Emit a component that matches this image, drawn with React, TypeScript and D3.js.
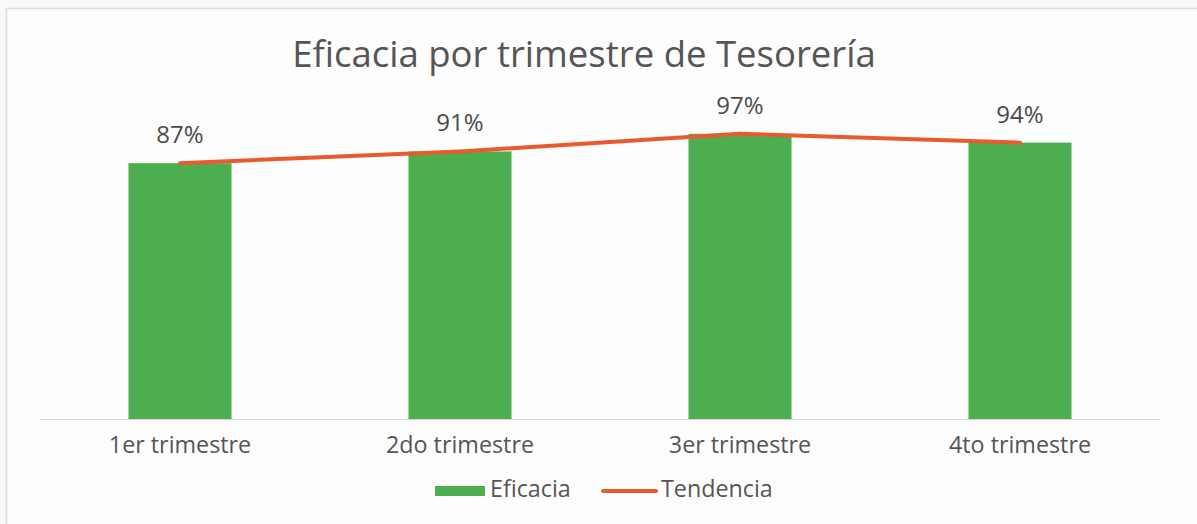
import React from "react";
import * as d3 from "d3";

const categories = ["1er trimestre", "2do trimestre", "3er trimestre", "4to trimestre"];
const eficacia = [0.87, 0.91, 0.97, 0.94];
const labels = ["87%", "91%", "97%", "94%"];
const legendItems = ["Eficacia", "Tendencia"];
const title = "Eficacia por trimestre de Tesorería";

const W = 1197;
const H = 524;
const FONT = "'Open Sans', 'Noto Sans', sans-serif";
const GREEN = "#4cae4f";
const ORANGE = "#ea5a2d";
const TEXT = "#4a4a4a";

export default function App() {
  const x = d3
    .scaleBand<string>()
    .domain(categories)
    .range([40, 1160])
    .paddingInner(0.632)
    .paddingOuter(0.316);
  const y = d3.scaleLinear().domain([0, 1]).range([419, 125]);
  const cx = (c: string) => (x(c) ?? 0) + x.bandwidth() / 2;
  const line = d3
    .line<number>()
    .x((_, i) => cx(categories[i]))
    .y((d) => y(d));

  return (
    <svg
      width={W}
      height={H}
      style={{ position: "absolute", left: 0, top: 0, display: "block" }}
      fontFamily={FONT}
    >
      <rect x={0} y={0} width={W} height={H} fill="#f9f9f9" />
      <rect x={6.5} y={8.5} width={1200} height={530} fill="#fdfdfd" stroke="#dcdcdc" strokeWidth={1.5} />
      <text x={584} y={67} textAnchor="middle" fontSize={36.5} fill="#555">
        {title}
      </text>
      {categories.map((c, i) => (
        <rect
          key={c}
          x={x(c)}
          y={y(eficacia[i])}
          width={x.bandwidth()}
          height={y(0) - y(eficacia[i])}
          fill={GREEN}
        />
      ))}
      <line x1={40} x2={1160} y1={419.5} y2={419.5} stroke="#d6d6d6" strokeWidth={1.2} />
      <path d={line(eficacia) ?? ""} fill="none" stroke={ORANGE} strokeWidth={4} strokeLinecap="round" />
      {categories.map((c, i) => (
        <text key={c + "l"} x={cx(c)} y={y(eficacia[i]) - 20} textAnchor="middle" fontSize={24} fill={TEXT}>
          {labels[i]}
        </text>
      ))}
      {categories.map((c) => (
        <text key={c + "t"} x={cx(c)} y={453} textAnchor="middle" fontSize={23.3} fill="#555">
          {c}
        </text>
      ))}
      <rect x={435} y={486} width={50} height={10} fill={GREEN} />
      <text x={490} y={497} fontSize={23.3} fill="#555">
        {legendItems[0]}
      </text>
      <line x1={603} x2={656} y1={491} y2={491} stroke={ORANGE} strokeWidth={4} strokeLinecap="round" />
      <text x={661} y={497} fontSize={23.3} fill="#555">
        {legendItems[1]}
      </text>
    </svg>
  );
}
